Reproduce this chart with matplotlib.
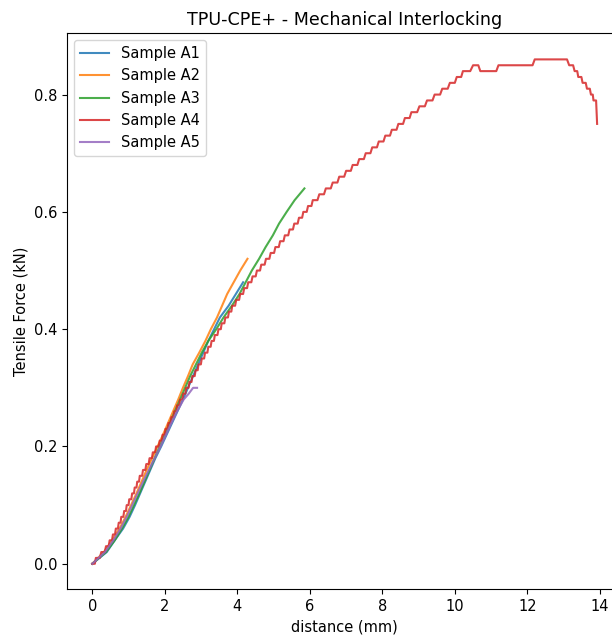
import matplotlib
matplotlib.use("Agg")
import matplotlib.pyplot as plt

plt.rcParams["font.size"] = 10.5

title = "TPU-CPE+ - Mechanical Interlocking"
xlabel = "distance (mm)"
ylabel = "Tensile Force (kN)"
labels = ["Sample A1", "Sample A2", "Sample A3", "Sample A4", "Sample A5"]

# Sample A1
a1_x = [0.0, 0.40, 0.62, 0.85, 1.03, 1.18, 1.32, 1.46, 1.60, 1.74, 1.90, 2.05, 2.20,
        2.35, 2.50, 2.64, 2.78, 2.92, 3.06, 3.20, 3.36, 3.52, 3.76, 3.96, 4.16]
a1_y = [0.0, 0.02, 0.04, 0.06, 0.08, 0.10, 0.12, 0.14, 0.16, 0.18, 0.20, 0.22, 0.24,
        0.26, 0.28, 0.30, 0.32, 0.34, 0.36, 0.38, 0.40, 0.42, 0.44, 0.46, 0.48]

# Sample A2
a2_x = [0.0, 0.32, 0.55, 0.75, 0.92, 1.07, 1.22, 1.36, 1.50, 1.65, 1.80, 1.95, 2.09,
        2.23, 2.37, 2.50, 2.64, 2.77, 2.95, 3.12, 3.27, 3.44, 3.58, 3.72, 3.90, 4.08, 4.28]
a2_y = [0.0, 0.02, 0.04, 0.06, 0.08, 0.10, 0.12, 0.14, 0.16, 0.18, 0.20, 0.22, 0.24,
        0.26, 0.28, 0.30, 0.32, 0.34, 0.36, 0.38, 0.40, 0.42, 0.44, 0.46, 0.48, 0.50, 0.52]

# Sample A3
a3_x = [0.0, 0.38, 0.62, 0.82, 1.00, 1.15, 1.30, 1.44, 1.58, 1.72, 1.86, 2.00, 2.14,
        2.28, 2.42, 2.56, 2.70, 2.86, 3.02, 3.20, 3.42, 3.62, 3.85, 4.06, 4.23, 4.40,
        4.60, 4.78, 4.98, 5.15, 5.36, 5.58, 5.85]
a3_y = [0.0, 0.02, 0.04, 0.06, 0.08, 0.10, 0.12, 0.14, 0.16, 0.18, 0.20, 0.22, 0.24,
        0.26, 0.28, 0.30, 0.32, 0.34, 0.36, 0.38, 0.40, 0.42, 0.44, 0.46, 0.48, 0.50,
        0.52, 0.54, 0.56, 0.58, 0.60, 0.62, 0.64]

# Sample A4 (readings at each 0.01 kN level)
a4_x = [0.00, 0.10, 0.25, 0.38, 0.48, 0.57, 0.65, 0.73, 0.80, 0.88, 0.95, 1.02, 1.10,
        1.17, 1.24, 1.31, 1.40, 1.49, 1.58, 1.67, 1.76, 1.86, 1.94, 2.02, 2.10, 2.18,
        2.26, 2.34, 2.42, 2.51, 2.59, 2.68, 2.76, 2.85, 2.93, 3.02, 3.11, 3.20, 3.29,
        3.38, 3.48, 3.57, 3.67, 3.77, 3.86, 3.97, 4.08, 4.19, 4.30, 4.42, 4.54, 4.66,
        4.79, 4.92, 5.05, 5.18, 5.31, 5.44, 5.57, 5.70, 5.82, 5.95, 6.08, 6.26, 6.44,
        6.63, 6.81, 7.00, 7.18, 7.36, 7.54, 7.72, 7.90, 8.08, 8.26, 8.44, 8.62, 8.80,
        9.02, 9.23, 9.44, 9.65, 9.86, 10.05, 10.22, 10.50, 10.70, 11.20, 12.20, 13.15,
        13.30, 13.40, 13.52, 13.64, 13.75, 13.82, 13.92]
a4_y = [0.00, 0.01, 0.02, 0.03, 0.04, 0.05, 0.06, 0.07, 0.08, 0.09, 0.10, 0.11, 0.12,
        0.13, 0.14, 0.15, 0.16, 0.17, 0.18, 0.19, 0.20, 0.21, 0.22, 0.23, 0.24, 0.25,
        0.26, 0.27, 0.28, 0.29, 0.30, 0.31, 0.32, 0.33, 0.34, 0.35, 0.36, 0.37, 0.38,
        0.39, 0.40, 0.41, 0.42, 0.43, 0.44, 0.45, 0.46, 0.47, 0.48, 0.49, 0.50, 0.51,
        0.52, 0.53, 0.54, 0.55, 0.56, 0.57, 0.58, 0.59, 0.60, 0.61, 0.62, 0.63, 0.64,
        0.65, 0.66, 0.67, 0.68, 0.69, 0.70, 0.71, 0.72, 0.73, 0.74, 0.75, 0.76, 0.77,
        0.78, 0.79, 0.80, 0.81, 0.82, 0.83, 0.84, 0.85, 0.84, 0.85, 0.86, 0.85,
        0.84, 0.83, 0.82, 0.81, 0.80, 0.79, 0.75]

# Sample A5
a5_x = [0.0, 0.35, 0.58, 0.78, 0.95, 1.10, 1.25, 1.40, 1.56, 1.72, 1.88, 2.03, 2.18,
        2.34, 2.52, 2.66, 2.78, 2.89]
a5_y = [0.0, 0.02, 0.04, 0.06, 0.08, 0.10, 0.12, 0.14, 0.16, 0.18, 0.20, 0.22, 0.24,
        0.26, 0.28, 0.29, 0.30, 0.30]

colors = ["#1f77b4", "#ff7f0e", "#2ca02c", "#d62728", "#9467bd"]


def stair_path(xs, ys, flat=0.72):
    """Sampled-sensor look: hold each level, then ramp to the next."""
    px, py = [xs[0]], [ys[0]]
    for i in range(1, len(xs)):
        x0, x1 = xs[i - 1], xs[i]
        if x1 - x0 > 0.3:
            # long plateau: hold, then short ramp
            xm = x1 - 0.06
        else:
            xm = x0 + flat * (x1 - x0)
        px += [xm, x1]
        py += [ys[i - 1], ys[i]]
    return px, py


fig = plt.figure(figsize=(6.12, 6.35), dpi=100)
ax = fig.add_axes([67 / 612, 46 / 635, 555.5 / 612, 556 / 635])

series = [(a1_x, a1_y, False), (a2_x, a2_y, False), (a3_x, a3_y, False),
          (a4_x, a4_y, True), (a5_x, a5_y, False)]
for (xs, ys, stair), lab, c in zip(series, labels, colors):
    if stair:
        sx, sy = stair_path(xs, ys)
        ax.plot(sx, sy, color=c, alpha=0.85, lw=1.5, label=lab)
    else:
        ax.plot(xs, ys, color=c, alpha=0.85, lw=1.5, label=lab)

ax.set_xticks([0, 2, 4, 6, 8, 10, 12, 14])
ax.set_yticks([0.0, 0.2, 0.4, 0.6, 0.8])
ax.set_xlim(-0.696, 14.62)
ax.set_ylim(-0.043, 0.905)
ax.set_title(title, fontsize=12.6)
ax.set_xlabel(xlabel)
ax.set_ylabel(ylabel)
ax.legend(loc="upper left")

fig.savefig("out.png", dpi=100, facecolor="white")
